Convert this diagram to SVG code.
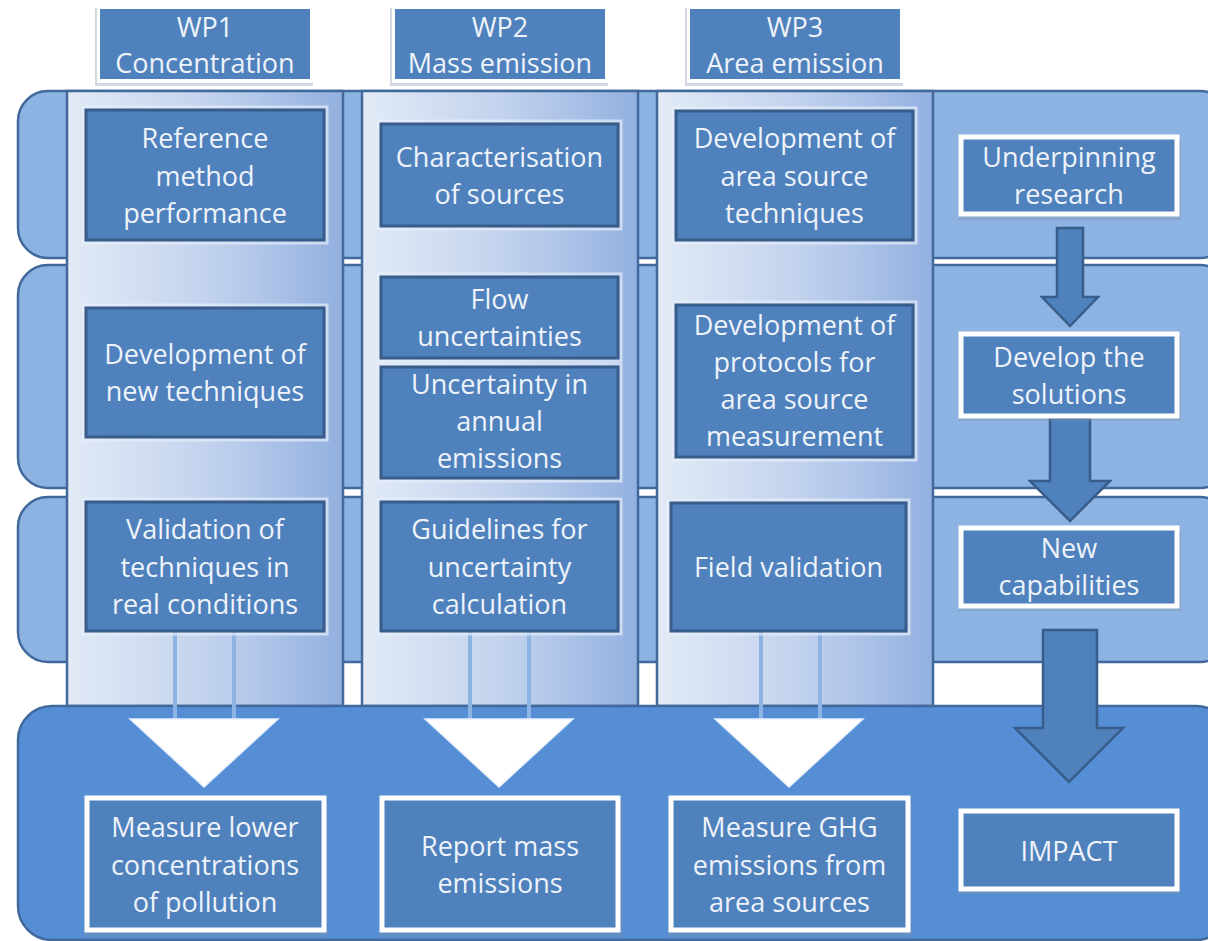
<svg xmlns="http://www.w3.org/2000/svg" width="1208" height="941" viewBox="0 0 1208 941">
<defs>
<linearGradient id="colg" x1="0" y1="0" x2="1" y2="0">
<stop offset="0" stop-color="#E2EAF6"/>
<stop offset="0.5" stop-color="#C3D3EE"/>
<stop offset="1" stop-color="#93B0E0"/>
</linearGradient>
<style>
.band{fill:#8DB3E2;stroke:#41699C;stroke-width:2.5}
.bandB{fill:#558ED5;stroke:#41699C;stroke-width:2.5}
.col{fill:url(#colg);stroke:#41699C;stroke-width:2.5}
.ibox{fill:#4F81BD;stroke:#385D8A;stroke-width:3}
.halo{fill:none;stroke:#E6EEF9;stroke-width:3;opacity:0.7}
.wbox{fill:#4F81BD;stroke:#FFFFFF;stroke-width:5}
.shadow{fill:#7F93AD;opacity:0.35}
.t{font-family:"Open Sans","Liberation Sans",sans-serif;font-size:27px;font-weight:500;fill:#EEF3FA;text-anchor:middle}
.arrow{fill:#4F81BD;stroke:#385D8A;stroke-width:2.5;stroke-linejoin:miter}
.link{stroke:#8DB3E2;stroke-width:4}
.tri{fill:#FFFFFF;stroke:#E8F0FB;stroke-width:1.5}
</style>
</defs>
<rect width="1208" height="941" fill="#FFFFFF"/>

<g id="bands">
<rect class="band" x="18" y="91" width="1212" height="167" rx="30"/>
<rect class="band" x="18" y="265" width="1212" height="223" rx="30"/>
<rect class="band" x="18" y="497" width="1212" height="165" rx="30"/>
</g>

<g id="columns">
<rect class="col" x="67" y="91" width="276" height="615"/>
<rect class="col" x="362" y="91" width="276" height="615"/>
<rect class="col" x="657" y="91" width="276" height="615"/>
</g>

<g id="bottom-band">
<rect class="bandB" x="18" y="706" width="1212" height="234" rx="34"/>
</g>

<g id="connectors">
<line class="link" x1="175" y1="631" x2="175" y2="720"/>
<line class="link" x1="234" y1="631" x2="234" y2="720"/>
<line class="link" x1="470" y1="631" x2="470" y2="720"/>
<line class="link" x1="529" y1="631" x2="529" y2="720"/>
<line class="link" x1="761" y1="631" x2="761" y2="720"/>
<line class="link" x1="820" y1="631" x2="820" y2="720"/>
<polygon class="tri" points="130,719 278,719 204,787"/>
<polygon class="tri" points="425,719 573,719 499,787"/>
<polygon class="tri" points="715,719 863,719 789,787"/>
<polygon class="arrow" points="1057,228 1083,228 1083,297 1098,297 1070,326 1042,297 1057,297"/>
<polygon class="arrow" points="1050,418 1090,418 1090,481 1110,481 1070,521 1030,481 1050,481"/>
<polygon class="arrow" points="1043,630 1097,630 1097,728 1123,728 1069,782 1015,728 1043,728"/>
</g>

<g id="wp1">
<rect class="shadow" x="95" y="8" width="218" height="78"/>
<rect x="97" y="5" width="216" height="78" fill="#FFFFFF"/>
<rect x="100" y="9" width="210" height="70" fill="#4F81BD"/>
<text class="t" x="205" y="37">WP1</text>
<text class="t" x="205" y="73">Concentration</text>
</g>
<g id="wp2">
<rect class="shadow" x="390" y="8" width="218" height="78"/>
<rect x="392" y="5" width="216" height="78" fill="#FFFFFF"/>
<rect x="395" y="9" width="210" height="70" fill="#4F81BD"/>
<text class="t" x="500" y="37">WP2</text>
<text class="t" x="500" y="73">Mass emission</text>
</g>
<g id="wp3">
<rect class="shadow" x="685" y="8" width="218" height="78"/>
<rect x="687" y="5" width="216" height="78" fill="#FFFFFF"/>
<rect x="690" y="9" width="210" height="70" fill="#4F81BD"/>
<text class="t" x="795" y="37">WP3</text>
<text class="t" x="795" y="73">Area emission</text>
</g>

<g id="ref-method">
<rect class="halo" x="83" y="107" width="244" height="136"/>
<rect class="ibox" x="86" y="110" width="238" height="130"/>
<text class="t" x="205" y="148">Reference</text>
<text class="t" x="205" y="186">method</text>
<text class="t" x="205" y="223">performance</text>
</g>
<g id="dev-new">
<rect class="halo" x="83" y="305" width="244" height="135"/>
<rect class="ibox" x="86" y="308" width="238" height="129"/>
<text class="t" x="205" y="364">Development of</text>
<text class="t" x="205" y="401">new techniques</text>
</g>
<g id="validation">
<rect class="halo" x="83" y="499" width="244" height="135"/>
<rect class="ibox" x="86" y="502" width="238" height="129"/>
<text class="t" x="205" y="539">Validation of</text>
<text class="t" x="205" y="577">techniques in</text>
<text class="t" x="205" y="614">real conditions</text>
</g>

<g id="characterisation">
<rect class="halo" x="378" y="121" width="243" height="108"/>
<rect class="ibox" x="381" y="124" width="237" height="102"/>
<text class="t" x="499.5" y="167">Characterisation</text>
<text class="t" x="499.5" y="204">of sources</text>
</g>
<g id="flow">
<rect class="halo" x="378" y="274" width="243" height="87"/>
<rect class="ibox" x="381" y="277" width="237" height="81"/>
<text class="t" x="499.5" y="309">Flow</text>
<text class="t" x="499.5" y="346">uncertainties</text>
</g>
<g id="annual">
<rect class="halo" x="378" y="364" width="243" height="117"/>
<rect class="ibox" x="381" y="367" width="237" height="111"/>
<text class="t" x="499.5" y="394">Uncertainty in</text>
<text class="t" x="499.5" y="431">annual</text>
<text class="t" x="499.5" y="468">emissions</text>
</g>
<g id="guidelines">
<rect class="halo" x="378" y="499" width="243" height="135"/>
<rect class="ibox" x="381" y="502" width="237" height="129"/>
<text class="t" x="499.5" y="539">Guidelines for</text>
<text class="t" x="499.5" y="577">uncertainty</text>
<text class="t" x="499.5" y="614">calculation</text>
</g>

<g id="area-tech">
<rect class="halo" x="673" y="108" width="243" height="135"/>
<rect class="ibox" x="676" y="111" width="237" height="129"/>
<text class="t" x="794.5" y="148">Development of</text>
<text class="t" x="794.5" y="186">area source</text>
<text class="t" x="794.5" y="223">techniques</text>
</g>
<g id="protocols">
<rect class="halo" x="673" y="302" width="243" height="158"/>
<rect class="ibox" x="676" y="305" width="237" height="152"/>
<text class="t" x="794.5" y="335">Development of</text>
<text class="t" x="794.5" y="372">protocols for</text>
<text class="t" x="794.5" y="409">area source</text>
<text class="t" x="794.5" y="446">measurement</text>
</g>
<g id="field">
<rect class="halo" x="668" y="500" width="241" height="134"/>
<rect class="ibox" x="671" y="503" width="235" height="128"/>
<text class="t" x="788.5" y="577">Field validation</text>
</g>

<g id="underpinning">
<rect class="shadow" x="959" y="140" width="222" height="80"/>
<rect class="wbox" x="961" y="137" width="216" height="77"/>
<text class="t" x="1069" y="167">Underpinning</text>
<text class="t" x="1069" y="204">research</text>
</g>
<g id="develop">
<rect class="shadow" x="959" y="337" width="222" height="84"/>
<rect class="wbox" x="961" y="334" width="216" height="82"/>
<text class="t" x="1069" y="367">Develop the</text>
<text class="t" x="1069" y="404">solutions</text>
</g>
<g id="capabilities">
<rect class="shadow" x="959" y="531" width="222" height="80"/>
<rect class="wbox" x="961" y="528" width="216" height="78"/>
<text class="t" x="1069" y="558">New</text>
<text class="t" x="1069" y="595">capabilities</text>
</g>

<g id="measure-lower">
<rect class="shadow" x="84" y="801" width="244" height="136"/>
<rect class="wbox" x="87" y="798" width="237" height="132"/>
<text class="t" x="205" y="837">Measure lower</text>
<text class="t" x="205" y="875">concentrations</text>
<text class="t" x="205" y="912">of pollution</text>
</g>
<g id="report-mass">
<rect class="shadow" x="379" y="801" width="244" height="136"/>
<rect class="wbox" x="382" y="798" width="236" height="132"/>
<text class="t" x="500" y="856">Report mass</text>
<text class="t" x="500" y="893">emissions</text>
</g>
<g id="measure-ghg">
<rect class="shadow" x="668" y="801" width="244" height="136"/>
<rect class="wbox" x="671" y="798" width="237" height="132"/>
<text class="t" x="789.5" y="837">Measure GHG</text>
<text class="t" x="789.5" y="875">emissions from</text>
<text class="t" x="789.5" y="912">area sources</text>
</g>
<g id="impact">
<rect class="shadow" x="959" y="814" width="222" height="80"/>
<rect class="wbox" x="961" y="811" width="216" height="78"/>
<text class="t" x="1069" y="861">IMPACT</text>
</g>
</svg>
